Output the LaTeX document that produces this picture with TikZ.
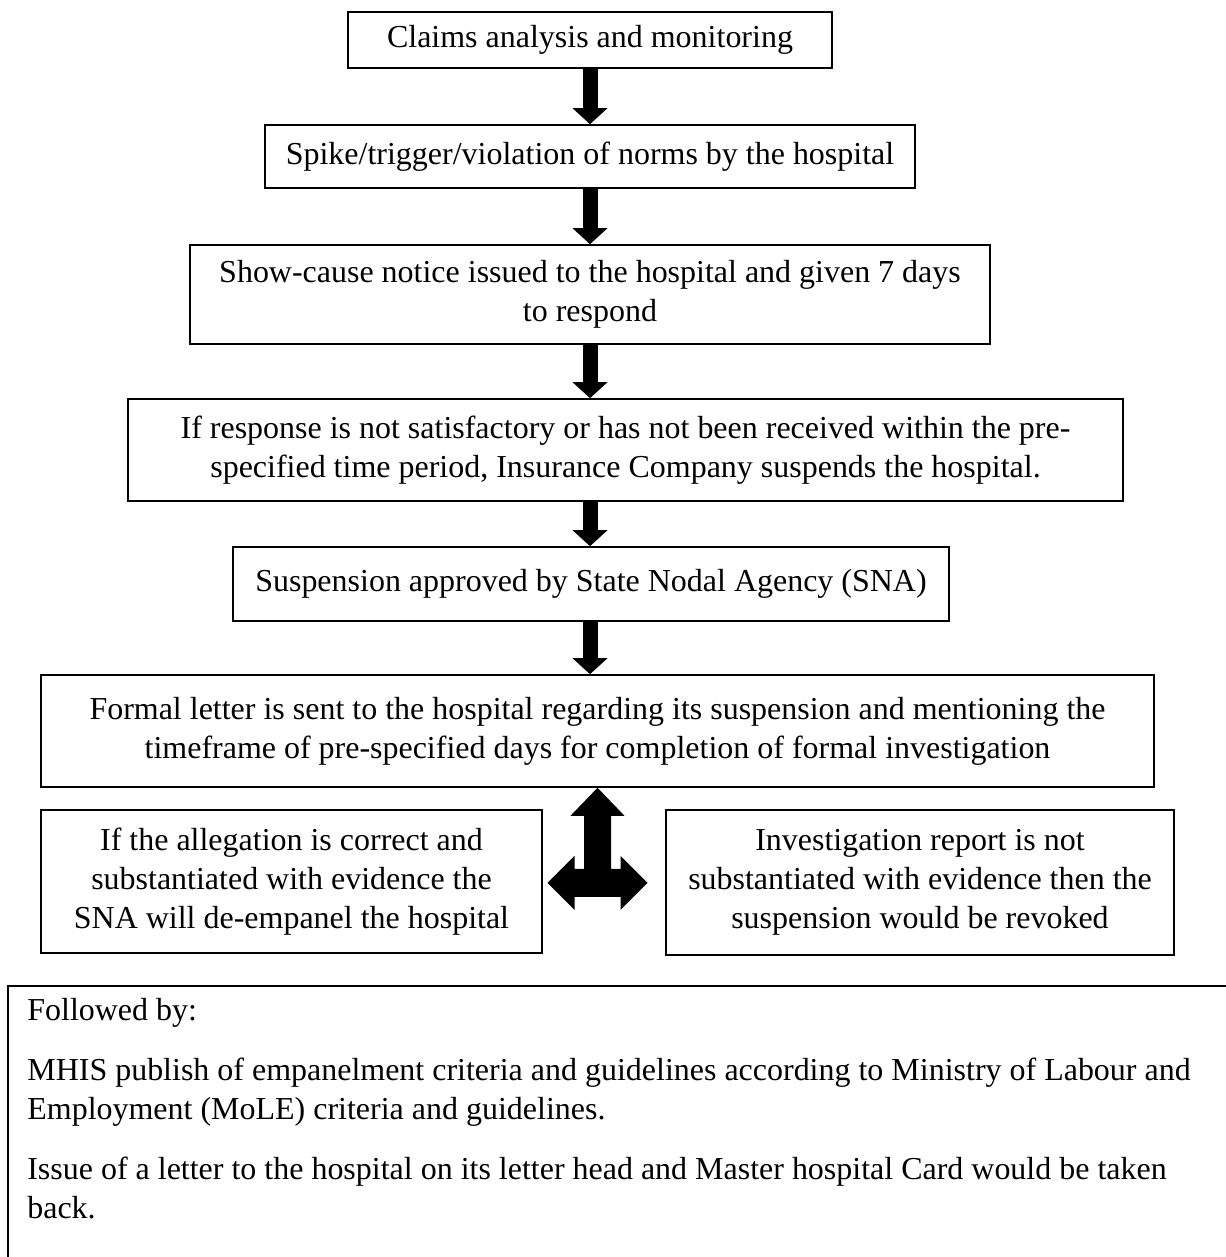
\documentclass[tikz,border=0pt]{standalone}
\usepackage{fontspec}
\setmainfont{Liberation Serif}
\usepackage{tikz}
\usetikzlibrary{arrows.meta,calc}

\begin{document}
\begin{tikzpicture}[x=0.02cm, y=-0.02cm,
        font=\fontsize{18.2}{22.2}\selectfont,
        box/.style={draw, line width=0.9pt, align=center, inner sep=0pt},
        down/.style={line width=0.3cm, -{Triangle[length=0.32cm,width=0.68cm]}}]
    \useasboundingbox (0,0) rectangle (1225,1257);
    \node[box, minimum width=9.68cm, minimum height=1.12cm] (b1) at (590,40) {Claims analysis and monitoring};
    \node[box, minimum width=13cm, minimum height=1.26cm] (b2) at (590,156.5) {Spike/trigger/violation of norms by the hospital};
    \node[box, minimum width=16cm, minimum height=1.98cm] (b3) at (590,294.5) {Show-cause notice issued to the hospital and given 7 days\\ to respond};
    \node[box, minimum width=19.9cm, minimum height=2.04cm] (b4) at (625.5,450) {If response is not satisfactory or has not been received within the pre-\\ specified time period, Insurance Company suspends the hospital.};
    \node[box, minimum width=14.32cm, minimum height=1.48cm] (b5) at (591,584) {Suspension approved by State Nodal Agency (SNA)};
    \node[box, minimum width=22.26cm, minimum height=2.24cm] (b6) at (597.5,731) {Formal letter is sent to the hospital regarding its suspension and mentioning the\\ timeframe of pre-specified days for completion of formal investigation};
    \node[box, minimum width=10.02cm, minimum height=2.86cm] (b7) at (291.5,881.5) {If the allegation is correct and\\ substantiated with evidence the\\ SNA will de-empanel the hospital};
    \node[box, minimum width=10.16cm, minimum height=2.9cm] (b8) at (920,882.5) {Investigation report is not\\ substantiated with evidence then the\\ suspension would be revoked};
    \node[draw, line width=1.2pt, anchor=north west, minimum width=25cm, minimum height=6cm] (notes) at (7,985) {};
    \node[anchor=north west, align=left, inner sep=0pt] (notetext) at ([xshift=0.4cm,yshift=-0.26cm]notes.north west) {Followed by:\\[0.42cm]
        MHIS publish of empanelment criteria and guidelines according to Ministry of Labour and\\
        Employment (MoLE) criteria and guidelines.\\[0.42cm]
        Issue of a letter to the hospital on its letter head and Master hospital Card would be taken\\
        back.};
    \draw[down] (b1.south) -- (b2.north);
    \draw[down] (b2.south) -- (b3.north);
    \draw[down] (b3.south) -- (b4.north -| b3.south);
    \draw[down] (b4.south -| b3.south) -- (b5.north -| b3.south);
    \draw[down] (b5.south -| b3.south) -- (b6.north -| b3.south);
    \coordinate (hub) at ($(b6.south)+(0,95)$);
    \fill[shift={(hub)}] (0,-95) -- (27,-67) -- (13.5,-67) -- (13.5,-14) -- (23,-14) -- (23,-27)
        -- (50,0) -- (23,27) -- (23,14) -- (-23,14) -- (-23,27) -- (-50,0) -- (-23,-27)
        -- (-23,-14) -- (-13.5,-14) -- (-13.5,-67) -- (-27,-67) -- cycle;
\end{tikzpicture}
\end{document}
